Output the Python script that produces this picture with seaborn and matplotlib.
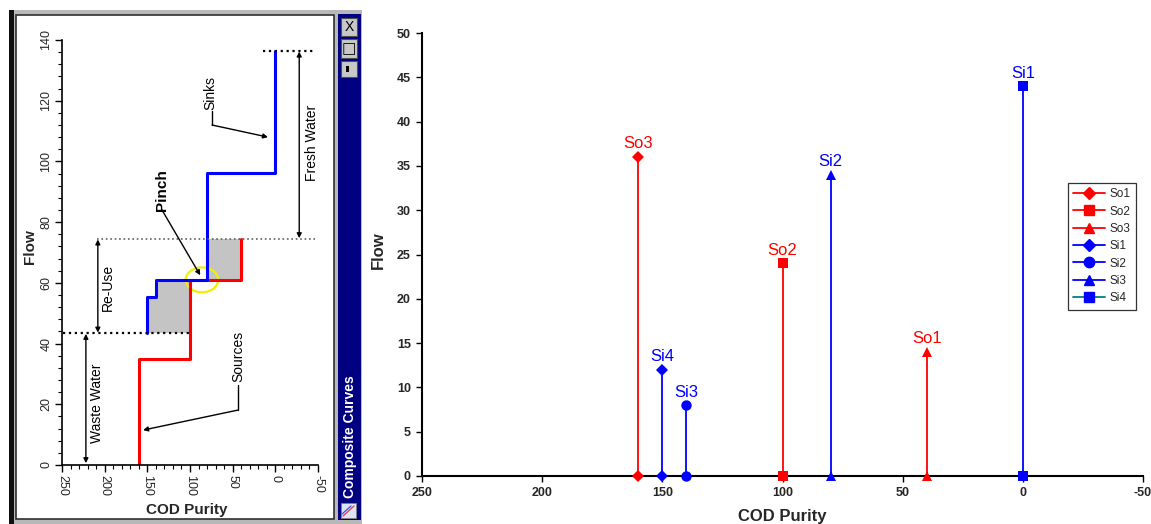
import numpy as np
import pandas as pd
import matplotlib
matplotlib.use("Agg")
import matplotlib.pyplot as plt
import seaborn as sns
from matplotlib.lines import Line2D
from matplotlib.patches import Rectangle, Ellipse
from matplotlib.ticker import MultipleLocator

# ---------------- data: stem chart (right) ----------------
series_names = ["So1", "So2", "So3", "Si1", "Si2", "Si3", "Si4"]
purity = [160, 100, 40, 150, 140, 80, 0]
flow = [36, 24, 14, 12, 8, 34, 44]
point_labels = ["So3", "So2", "So1", "Si4", "Si3", "Si2", "Si1"]
series_colors = ["#ff0000", "#ff0000", "#ff0000", "#0000ff", "#0000ff", "#0000ff", "#0000ff"]
legend_line_colors = ["#ff0000", "#ff0000", "#ff0000", "#0000ff", "#0000ff", "#0000ff", "#008080"]
series_markers = ["D", "s", "^", "D", "o", "^", "s"]
x_ticks = [250, 200, 150, 100, 50, 0, -50]
y_ticks = [0, 5, 10, 15, 20, 25, 30, 35, 40, 45, 50]

# ---------------- data: composite curves (left, screenshot) ----------------
src_purity = [160, 160, 100, 100, 40, 40]
src_flow = [0, 35, 35, 61, 61, 74.5]
snk_purity = [150, 150, 140, 140, 80, 80, 0, 0]
snk_flow = [43.4, 55.2, 55.2, 61, 61, 96.3, 96.3, 136.4]
fill_flow = [43.4, 55.2, 61, 74.5]
fill_sink = [150, 140, 80, 80]
fill_source = [100, 100, 40, 40]
cc_flow_ticks = [0, 20, 40, 60, 80, 100, 120, 140]
cc_purity_ticks = [250, 200, 150, 100, 50, 0, -50]

sns.set_theme(style="white")
plt.rcParams["font.family"] = ["Liberation Sans", "DejaVu Sans"]

W, H = 1151, 524
fig = plt.figure(figsize=(W / 100, H / 100), dpi=100)
fig.patch.set_facecolor("white")

def fx(px):
    return px / W

def fy(py):
    return 1 - py / H

# ---------------- background window frame (left screenshot) ----------------
bg = fig.add_axes([0, 0, 1, 1])
bg.set_xlim(0, W)
bg.set_ylim(H, 0)
bg.axis("off")
bg.add_patch(Rectangle((9, 10), 353, 514, facecolor="#b8b8b8", edgecolor="none"))
bg.add_patch(Rectangle((16, 15), 318, 504, facecolor="white", edgecolor="#303030", lw=1.2))
bg.add_patch(Rectangle((9, 10), 5, 514, facecolor="#101010", edgecolor="none"))
bg.add_patch(Rectangle((338, 14), 23, 506, facecolor="#000080", edgecolor="none"))
for (y0, h) in [(18, 18), (39, 19), (61, 16)]:
    bg.add_patch(Rectangle((341, y0), 16, h, facecolor="#c8c8c8", edgecolor="#505050", lw=0.8))
bg.text(349, 27, "X", ha="center", va="center", fontsize=10, color="black")
bg.text(349, 48.5, "□", ha="center", va="center", fontsize=11, color="black",
        family=["DejaVu Sans"])
bg.add_patch(Rectangle((346, 66), 3, 6, facecolor="black", edgecolor="none"))
bg.add_patch(Rectangle((341, 503), 15, 15, facecolor="#dde4f4", edgecolor="#808080", lw=0.6))
bg.plot([343, 354], [516, 506], color="#ff3030", lw=0.9)
bg.plot([342, 351], [514, 506], color="#3050ff", lw=0.9)
bg.text(350, 437, "Composite Curves", rotation=90, ha="center", va="center",
        fontsize=10, fontweight="bold", color="white")

# ---------------- composite curves axes ----------------
ax1 = fig.add_axes([fx(62), fy(465), fx(318 - 62), (465 - 40) / H])
ax1.set_facecolor("none")
ax1.set_xlim(250, -50)
ax1.set_ylim(0, 140)
for s in ["top", "right"]:
    ax1.spines[s].set_visible(False)
for s in ["left", "bottom"]:
    ax1.spines[s].set_color("black")
    ax1.spines[s].set_linewidth(1.2)
ax1.set_xticks(cc_purity_ticks)
ax1.set_yticks(cc_flow_ticks)
ax1.xaxis.set_minor_locator(MultipleLocator(10))
ax1.yaxis.set_minor_locator(MultipleLocator(4))
ax1.tick_params(which="major", direction="out", length=5, width=1, color="black",
                labelsize=9, pad=2, left=True, bottom=True)
ax1.tick_params(which="minor", direction="out", length=3, width=0.8, color="black",
                left=True, bottom=True)
ax1.set_xticklabels([str(v) for v in cc_purity_ticks], rotation=270)
ax1.set_yticklabels([str(v) for v in cc_flow_ticks], rotation=90, va="center")

ax1.fill_betweenx(fill_flow, fill_sink, fill_source, step="post",
                  color="#c4c4c4", linewidth=0)
sns.lineplot(x=src_purity, y=src_flow, sort=False, estimator=None,
             color="#ff0000", linewidth=2.2, ax=ax1)
sns.lineplot(x=snk_purity, y=snk_flow, sort=False, estimator=None,
             color="#0000ff", linewidth=2.2, ax=ax1)

ax1.plot([249, 100], [43.4, 43.4], ls=":", color="black", lw=1.6)
ax1.plot([209, -47], [74.5, 74.5], ls=":", color="#606060", lw=1.2)
ax1.plot([14, -47], [136.4, 136.4], ls=":", color="black", lw=1.6)

arrow_kw = dict(arrowstyle="<|-|>", color="black", lw=1.0, mutation_scale=7,
                shrinkA=0, shrinkB=0)
ax1.annotate("", xy=(222, 0.6), xytext=(222, 43.2), arrowprops=arrow_kw)
ax1.annotate("", xy=(208, 43.6), xytext=(208, 74.3), arrowprops=arrow_kw)
ax1.annotate("", xy=(-28, 74.7), xytext=(-28, 136.2), arrowprops=arrow_kw)

txt_kw = dict(rotation=90, ha="center", va="center", fontsize=10, color="black")
ax1.text(209, 20.4, "Waste Water", **txt_kw)
ax1.text(196, 58.6, "Re-Use", **txt_kw)
ax1.text(-43, 106, "Fresh Water", **txt_kw)
ax1.text(76.6, 122.5, "Sinks", **txt_kw)
ax1.text(43.7, 35.6, "Sources", **txt_kw)
ax1.text(133, 90.6, "Pinch", rotation=90, ha="center", va="center", fontsize=11,
         fontweight="bold", color="black")

lead_kw = dict(arrowstyle="-|>", color="black", lw=1.0, mutation_scale=7,
               shrinkA=0, shrinkB=0)
ax1.plot([74.2, 74.2], [116.5, 112], color="black", lw=1.0)
ax1.annotate("", xy=(8.6, 108), xytext=(74.2, 112), arrowprops=lead_kw)
ax1.plot([43.7, 43.7], [26.5, 18.1], color="black", lw=1.0)
ax1.annotate("", xy=(155, 11.5), xytext=(43.7, 18.1), arrowprops=lead_kw)
ax1.annotate("", xy=(88, 62.5), xytext=(132.8, 84.0), arrowprops=lead_kw)
ax1.add_patch(Ellipse((86, 61), 38, 8.2, facecolor="none", edgecolor="#f0f000", lw=1.6))

fig.text(fx(30), fy(247), "Flow", rotation=90, ha="center", va="center",
         fontsize=11, fontweight="bold")
fig.text(fx(187), fy(510), "COD Purity", ha="center", va="center",
         fontsize=11, fontweight="bold")

# ---------------- stem chart (right) ----------------
ax2 = fig.add_axes([fx(422), fy(476), fx(1143 - 422), (476 - 33) / H])
ax2.set_facecolor("none")
ax2.set_xlim(250, -50)
ax2.set_ylim(0, 50)

for name, p, f, c, m, lab in zip(series_names, purity, flow, series_colors,
                                 series_markers, point_labels):
    stem = pd.DataFrame({"purity": [p, p], "flow": [0, f]})
    ms = 7.5 if m in ("^", "o") else 6.5
    sns.lineplot(data=stem, x="purity", y="flow", sort=False, estimator=None,
                 color=c, marker=m, markersize=ms, markeredgewidth=0,
                 linewidth=1.3, ax=ax2, clip_on=False)
    ax2.annotate(lab, (p, f), xytext=(0, 4), textcoords="offset points",
                 ha="center", va="bottom", fontsize=12, color=c)

for s in ["top", "right"]:
    ax2.spines[s].set_visible(False)
for s in ["left", "bottom"]:
    ax2.spines[s].set_color("black")
    ax2.spines[s].set_linewidth(1.5)
    ax2.spines[s].set_zorder(0.5)
ax2.set_xticks(x_ticks)
ax2.set_yticks(y_ticks)
ax2.set_xticklabels([str(v) for v in x_ticks], fontweight="bold")
ax2.set_yticklabels([str(v) for v in y_ticks], fontweight="bold")
ax2.tick_params(direction="out", length=4, width=1, color="black", labelsize=9,
                pad=4, left=True, bottom=True)
ax2.set_xlabel("")
ax2.set_ylabel("")
fig.text(fx(378), fy(250), "Flow", rotation=90, ha="center", va="center",
         fontsize=12, fontweight="bold")
fig.text(fx(782), fy(516), "COD Purity", ha="center", va="center",
         fontsize=12, fontweight="bold")

handles = [Line2D([0], [0], color=lc, marker=m, markersize=6.5 if m in ("D", "s") else 7.5,
                  markerfacecolor=c, markeredgecolor=c, lw=1.3)
           for lc, m, c in zip(legend_line_colors, series_markers, series_colors)]
leg = fig.legend(handles, series_names, loc="upper left",
                 bbox_to_anchor=(fx(1068), fy(183)), frameon=True, fancybox=False,
                 fontsize=8.5, handlelength=2.7, handletextpad=0.4, borderpad=0.45,
                 labelspacing=0.45, borderaxespad=0)
leg.get_frame().set_edgecolor("black")
leg.get_frame().set_linewidth(0.9)

fig.savefig("out.png", dpi=100)
